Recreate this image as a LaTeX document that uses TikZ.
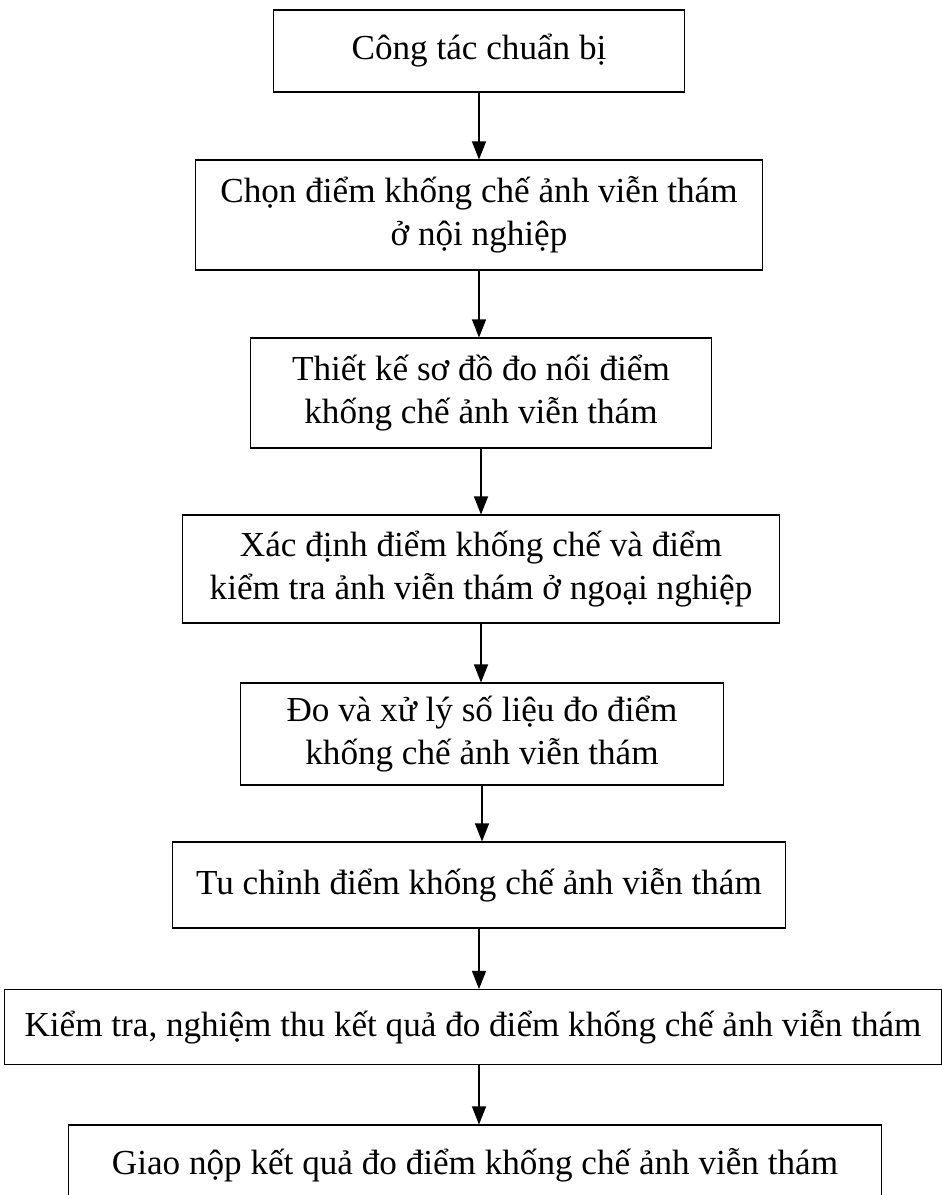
\documentclass[tikz,border=0pt]{standalone}
\usepackage{fontspec}
\setmainfont{Liberation Serif}
\usetikzlibrary{arrows.meta}

\begin{document}
\begin{tikzpicture}[x=0.02cm, y=-0.02cm,
        stepbox/.style = {draw, line width = 0.6pt, align=center, inner sep=0pt,
                          font=\fontsize{20}{24.5}\selectfont},
        flow/.style = {line width = 0.6pt, -{Triangle[length=3.6mm, width=2.8mm]}}]
                        \useasboundingbox (0,0) rectangle (941,1195);

                        \node[stepbox, minimum width=8.24cm, minimum height=1.64cm] (chuanbi) at (479,51) {Công tác chuẩn bị};
                        \node[stepbox, minimum width=11.36cm, minimum height=2.2cm] (chondiem) at (479,215) {Chọn điểm khống chế ảnh viễn thám\\ở nội nghiệp};
                        \node[stepbox, minimum width=9.24cm, minimum height=2.2cm] (thietke) at (481,393) {Thiết kế sơ đồ đo nối điểm\\khống chế ảnh viễn thám};
                        \node[stepbox, minimum width=11.94cm, minimum height=2.16cm] (xacdinh) at (481,569) {Xác định điểm khống chế và điểm\\kiểm tra ảnh viễn thám ở ngoại nghiệp};
                        \node[stepbox, minimum width=9.68cm, minimum height=2.04cm] (doxuly) at (482,734) {Đo và xử lý số liệu đo điểm\\khống chế ảnh viễn thám};
                        \node[stepbox, minimum width=12.28cm, minimum height=1.72cm] (tuchinh) at (479,885) {Tu chỉnh điểm khống chế ảnh viễn thám};
                        \node[stepbox, minimum width=18.76cm, minimum height=1.5cm] (kiemtra) at (473,1027) {Kiểm tra, nghiệm thu kết quả đo điểm khống chế ảnh viễn thám};
                        \node[stepbox, minimum width=16.28cm, minimum height=1.6cm] (giaonop) at (475,1165) {Giao nộp kết quả đo điểm khống chế ảnh viễn thám};

                        \draw[flow] (chuanbi.south) -- (chuanbi.south |- chondiem.north);
                        \draw[flow] (chondiem.south) -- (chondiem.south |- thietke.north);
                        \draw[flow] (thietke.south) -- (thietke.south |- xacdinh.north);
                        \draw[flow] (xacdinh.south) -- (xacdinh.south |- doxuly.north);
                        \draw[flow] (doxuly.south) -- (doxuly.south |- tuchinh.north);
                        \draw[flow] (tuchinh.south) -- (tuchinh.south |- kiemtra.north);
                        \draw[flow] (tuchinh.south |- kiemtra.south) -- (tuchinh.south |- giaonop.north);
\end{tikzpicture}
\end{document}
